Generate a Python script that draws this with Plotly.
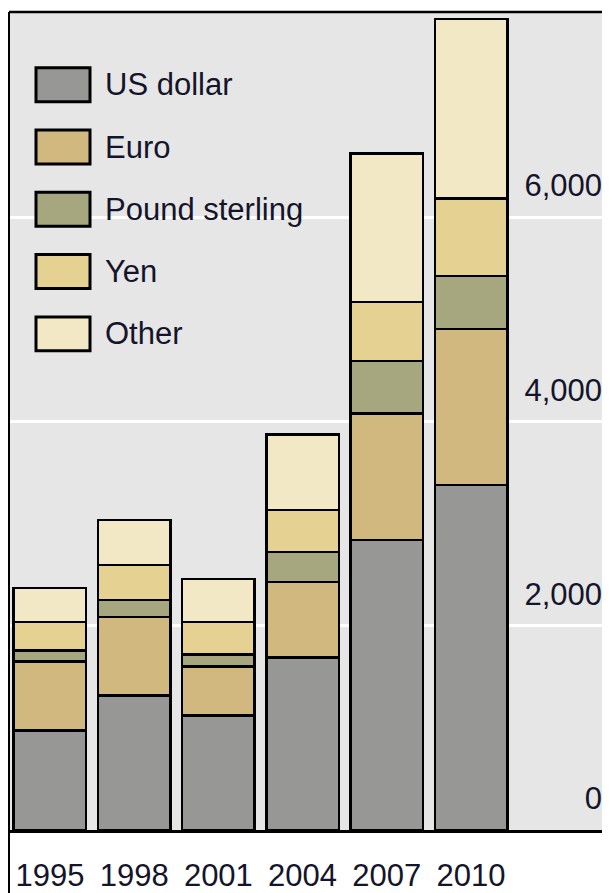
import plotly.graph_objects as go

years = ['1995', '1998', '2001', '2004', '2007', '2010']
currencies = ['US dollar', 'Euro', 'Pound sterling', 'Yen', 'Other']

us_dollar = [976, 1317, 1122, 1688, 2839, 3376]
euro = [673, 771, 478, 741, 1239, 1531]
pound = [107, 166, 117, 293, 517, 517]
yen = [283, 341, 322, 410, 576, 761]
other = [332, 439, 420, 741, 1453, 1756]

series = [us_dollar, euro, pound, yen, other]
colors = ['#979896', '#D0B87E', '#A6A77E', '#E5D292', '#F2E8C6']

FONT = 'Liberation Sans, Arial, sans-serif'
TXT = '#14142a'
# page body has an 8px margin, so the figure is a bit smaller than the window
OFF = 8
W, H = 610 - OFF, 893 - OFF
ML, MR, MT, MB = 1, 0, 12 - OFF, 893 - 833

fig = go.Figure()
for name, vals, col in zip(currencies, series, colors):
    fig.add_trace(go.Bar(
        x=list(range(len(years))),
        y=vals,
        name=name,
        width=0.86,
        marker=dict(color=col, line=dict(color='black', width=2.5)),
        showlegend=False,
    ))


# screen pixel (of the 610x893 window) -> paper coords
def px_x(p):
    return (p - OFF - ML) / (W - ML - MR)


def px_y(p):
    return 1 - (p - OFF - MT) / (H - MT - MB)


shapes = [
    dict(type='line', xref='paper', yref='paper', x0=0, x1=1, y0=1, y1=1,
         line=dict(color='black', width=2.5)),
    dict(type='line', xref='paper', yref='paper', x0=0, x1=0, y0=1, y1=px_y(900),
         line=dict(color='black', width=2)),
]
annotations = []
# hand-made legend with big swatches
for i, (name, col) in enumerate(zip(currencies, colors)):
    cy = 85 + i * 62.5
    shapes.append(dict(type='rect', xref='paper', yref='paper',
                       x0=px_x(36), x1=px_x(90), y0=px_y(cy - 17), y1=px_y(cy + 17),
                       fillcolor=col, line=dict(color='black', width=3)))
    annotations.append(dict(xref='paper', yref='paper', x=px_x(103), y=px_y(cy),
                            xanchor='left', yanchor='middle', text=name, showarrow=False,
                            font=dict(family=FONT, size=31, color=TXT)))

fig.update_layout(
    width=W, height=H,
    margin=dict(l=ML, r=MR, t=MT, b=MB),
    barmode='stack',
    paper_bgcolor='white',
    plot_bgcolor='#E6E6E6',
    font=dict(family=FONT, size=31, color=TXT),
    shapes=shapes,
    annotations=annotations,
    xaxis=dict(
        range=[-0.486, 6.65],
        tickvals=list(range(len(years))),
        ticktext=years,
        tickangle=0,
        showgrid=False,
        zeroline=False,
        showline=True, linecolor='black', linewidth=2.5,
        ticks='outside', ticklen=16, tickcolor='rgba(0,0,0,0)',
        tickfont=dict(size=31, color=TXT),
    ),
    yaxis=dict(
        range=[0, 8010],
        tickvals=[0, 2000, 4000, 6000],
        tickformat=',',
        side='right',
        ticklabelposition='inside top',
        ticklabelshift=-10,
        ticklabelstandoff=5,
        showgrid=True, gridcolor='white', gridwidth=3,
        zeroline=False,
        tickfont=dict(size=31, color=TXT),
    ),
)

fig.write_html('out.html')
